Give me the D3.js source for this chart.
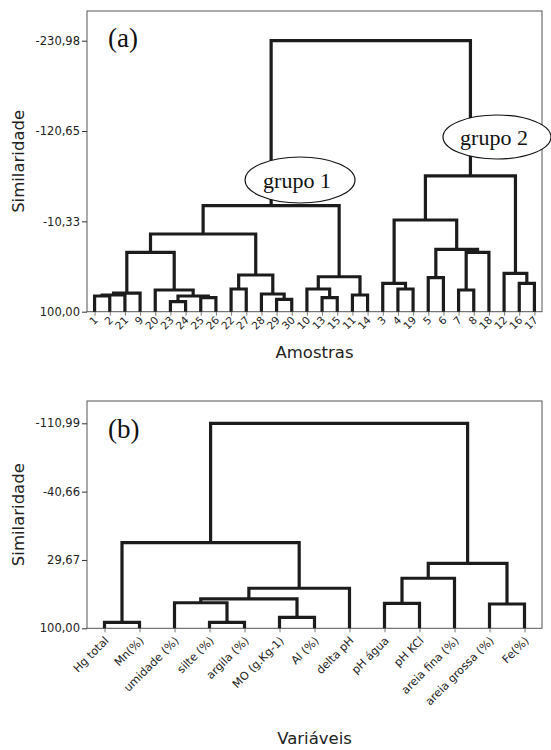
<!DOCTYPE html>
<html><head><meta charset="utf-8">
<script src="https://cdn.jsdelivr.net/npm/d3@7"></script>
<style>
body{margin:0;background:#fff;}
svg{display:block;}
</style></head>
<body>
<svg id="chart" width="551" height="750"></svg>
<script>
// ---------- Panel (a) data ----------
const leavesA = ["1","2","21","9","20","23","24","25","26","22","27","28","29","30","10","13","15","11","14","3","4","19","5","6","7","8","18","12","16","17"];
// merges: [left, right, height]; "m#" refers to merge index
const mergesA = [
  ["1","2",80.8],       // m0
  ["m0","21",79.6],     // m1
  ["m1","9",77.2],      // m2
  ["23","24",87.8],     // m3
  ["25","26",82.9],     // m4
  ["m3","m4",80.8],     // m5
  ["20","m5",73.5],     // m6
  ["m2","m6",27.5],     // m7
  ["22","27",72.3],     // m8
  ["29","30",84.9],     // m9
  ["28","m9",78.4],     // m10
  ["m8","m10",55.2],    // m11
  ["m7","m11",5.1],     // m12
  ["13","15",82.9],     // m13
  ["10","m13",72.3],    // m14
  ["11","14",79.6],     // m15
  ["m14","m15",57.3],   // m16
  ["m12","m16",-29.5],  // m17 grupo 1
  ["4","19",72.3],      // m18
  ["3","m18",65.3],     // m19
  ["5","6",58.5],       // m20
  ["7","8",73.5],       // m21
  ["m21","18",27.5],    // m22
  ["m20","m22",23.8],   // m23
  ["m19","m23",-12.0],  // m24
  ["16","17",65.3],     // m25
  ["12","m25",53.1],    // m26
  ["m24","m26",-66.0],  // m27 grupo 2
  ["m17","m27",-230.98] // m28
];
const ticksA = [100, -10.33, -120.65, -230.98];
const groupLabelsA = [["grupo 1","m17"],["grupo 2","m27"]];

// ---------- Panel (b) data ----------
const leavesB = ["Hg total","Mn(%)","umidade (%)","silte (%)","argila (%)","MO (g.Kg-1)","Al (%)","delta pH","pH água","pH KCl","areia fina (%)","areia grossa (%)","Fe(%)"];
const mergesB = [
  ["Hg total","Mn(%)",93.8],          // m0
  ["silte (%)","argila (%)",93.8],    // m1
  ["umidade (%)","m1",73.7],          // m2
  ["MO (g.Kg-1)","Al (%)",88.7],      // m3
  ["m2","m3",69.8],                   // m4
  ["m4","delta pH",58.8],             // m5
  ["m0","m5",11.9],                   // m6
  ["pH água","pH KCl",74.3],          // m7
  ["m7","areia fina (%)",48.5],       // m8
  ["areia grossa (%)","Fe(%)",75.0],  // m9
  ["m8","m9",33.1],                   // m10
  ["m6","m10",-110.99]                // m11
];
const ticksB = [100, 29.67, -40.66, -110.99];

const svg = d3.select("#chart");
const loc = d3.formatLocale({decimal:",", thousands:".", grouping:[3], currency:["",""], minus:"-"});
const fmt = loc.format(".2f");
const SANS = "DejaVu Sans";
const SERIF = "Liberation Serif";

function panel(cfg){
  const g = svg.append("g");
  const x = d3.scalePoint().domain(cfg.leaves).range([cfg.left, cfg.right]).padding(0.5);
  const y = d3.scaleLinear().domain(cfg.domain).range([cfg.bottom, cfg.top]);

  // frame
  g.append("rect").attr("x", cfg.left).attr("y", cfg.frameTop)
    .attr("width", cfg.right-cfg.left).attr("height", cfg.bottom-cfg.frameTop)
    .attr("fill","none").attr("stroke","#555").attr("stroke-width",1);

  // y axis
  const ya = g.append("g").attr("transform",`translate(${cfg.left},0)`)
    .call(d3.axisLeft(y).tickValues(cfg.ticks).tickSize(5).tickPadding(2).tickFormat(fmt));
  ya.select(".domain").remove();
  ya.selectAll("line").attr("stroke","#333");
  ya.selectAll("text").attr("font-family",SANS).attr("font-size",11.5).attr("fill","#222");

  // x axis ticks
  const xa = g.append("g").attr("transform",`translate(0,${cfg.bottom})`)
    .call(d3.axisBottom(x).tickSize(4).tickFormat(""));
  xa.select(".domain").remove();
  xa.selectAll("line").attr("stroke","#777");
  // leaf labels
  g.append("g").selectAll("text").data(cfg.leaves).join("text")
    .attr("transform", d => `translate(${x(d)+cfg.lblDx},${cfg.bottom+cfg.lblDy}) rotate(-45)`)
    .attr("text-anchor","end")
    .attr("font-family",SANS).attr("font-size",cfg.lblSize).attr("fill","#222")
    .text(d => d);

  // build dendrogram
  const nodes = [];
  const pos = name => {
    if (cfg.isMerge(name)) return nodes[+name.slice(1)];
    return {x: x(name), h: cfg.domain[0]};
  };
  cfg.merges.forEach(([a,b,h]) => {
    const A = pos(a), B = pos(b);
    nodes.push({x:(A.x+B.x)/2, h, A, B});
  });
  g.append("g").selectAll("path").data(nodes).join("path")
    .attr("d", n => `M${n.A.x},${y(n.A.h)}V${y(n.h)}H${n.B.x}V${y(n.B.h)}`)
    .attr("fill","none").attr("stroke","#1c1c1c").attr("stroke-width",3.2)
    .attr("stroke-linejoin","miter").attr("stroke-linecap","butt");

  // y title
  g.append("text").attr("transform",`translate(${cfg.yTitleX},${(cfg.frameTop+cfg.bottom)/2}) rotate(-90)`)
    .attr("text-anchor","middle").attr("font-family",SANS).attr("font-size",16.5).attr("fill","#222")
    .text("Similaridade");
  // x title
  g.append("text").attr("x",(cfg.left+cfg.right)/2).attr("y",cfg.xTitleY)
    .attr("text-anchor","middle").attr("font-family",SANS).attr("font-size",16.5).attr("fill","#222")
    .text(cfg.xTitle);
  // panel letter
  g.append("text").attr("x",cfg.left+21).attr("y",cfg.letterY)
    .attr("font-family",SERIF).attr("font-size",27).attr("fill","#111")
    .text(cfg.letter);
  return {g, x, y, nodes};
}

const isMergeA = n => /^m\d+$/.test(n);
const A = panel({leaves:leavesA, merges:mergesA, ticks:ticksA, domain:[100,-230.98],
  left:87, right:542, top:40.7, bottom:311.7, frameTop:11,
  lblDx:4, lblDy:9, lblSize:10.5, yTitleX:24, xTitleY:358, xTitle:"Amostras",
  letter:"(a)", letterY:47, isMerge:isMergeA});

const B = panel({leaves:leavesB, merges:mergesB, ticks:ticksB, domain:[100,-110.99],
  left:87, right:542, top:423.3, bottom:628.3, frameTop:401,
  lblDx:5, lblDy:13, lblSize:11.2, yTitleX:24, xTitleY:744, xTitle:"Variáveis",
  letter:"(b)", letterY:438, isMerge:isMergeA});

// group ellipses (a)
const ell = [
  {label:groupLabelsA[0][0], node:A.nodes[+groupLabelsA[0][1].slice(1)], cx:300, cy:180, rx:55, ry:23},
  {label:groupLabelsA[1][0], node:A.nodes[+groupLabelsA[1][1].slice(1)], cx:497, cy:137, rx:54, ry:22}
];
ell.forEach(e => {
  A.g.append("ellipse").attr("cx",e.cx).attr("cy",e.cy).attr("rx",e.rx).attr("ry",e.ry)
    .attr("fill","#fff").attr("stroke","#111").attr("stroke-width",1.2);
  A.g.append("text").attr("x",e.cx-3).attr("y",e.cy+8).attr("text-anchor","middle")
    .attr("font-family",SERIF).attr("font-size",22).attr("fill","#111").text(e.label);
});
</script>
</body></html>
